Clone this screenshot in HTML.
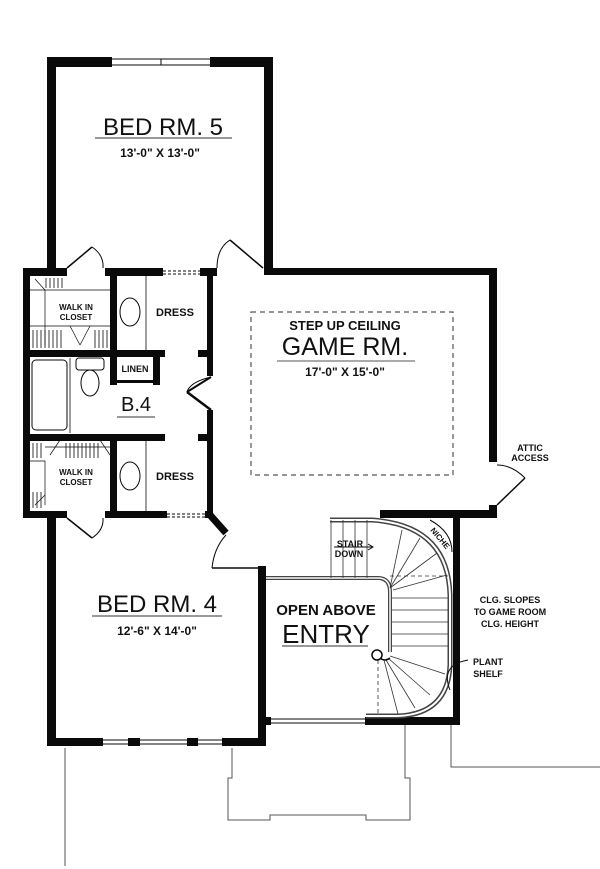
<!DOCTYPE html>
<html><head><meta charset="utf-8"><style>
html,body{margin:0;padding:0;background:#fff}
svg{display:block}
text{font-family:"Liberation Sans",sans-serif;fill:#111}
</style></head><body>
<svg width="600" height="869" viewBox="0 0 600 869" xmlns="http://www.w3.org/2000/svg">
<g fill="#0a0a0a" stroke="none">
<rect x="47" y="57" width="65" height="10"/>
<rect x="210" y="57" width="63" height="10"/>
<rect x="47" y="57" width="9" height="218"/>
<rect x="264" y="57" width="9" height="218"/>
<rect x="264" y="268" width="233" height="7"/>
<rect x="489" y="268" width="8" height="194"/>
<rect x="489" y="505" width="8" height="9"/>
<rect x="380" y="510" width="117" height="8"/>
<rect x="453" y="510" width="7" height="215"/>
<rect x="365" y="717" width="95" height="8"/>
<rect x="23" y="268" width="44" height="8"/>
<rect x="105" y="268" width="58" height="8"/>
<rect x="200" y="268" width="17" height="8"/>
<rect x="23" y="268" width="7" height="250"/>
<rect x="110" y="268" width="7" height="90"/>
<rect x="207" y="268" width="6" height="108"/>
<rect x="207" y="410" width="6" height="108"/>
<rect x="23" y="350" width="142" height="7"/>
<rect x="110" y="350" width="7" height="35"/>
<rect x="153" y="350" width="7" height="35"/>
<rect x="110" y="380" width="50" height="3"/>
<rect x="23" y="434" width="142" height="7"/>
<rect x="198" y="350" width="15" height="7"/>
<rect x="198" y="434" width="15" height="7"/>
<rect x="110" y="434" width="7" height="84"/>
<rect x="23" y="511" width="44" height="7"/>
<rect x="105" y="511" width="62" height="7"/>
<rect x="205" y="511" width="8" height="7"/>
<rect x="47" y="511" width="9" height="234"/>
<rect x="47" y="738" width="56" height="8"/>
<rect x="128" y="738" width="12" height="8"/>
<rect x="187" y="738" width="11" height="8"/>
<rect x="222" y="738" width="44" height="8"/>
<rect x="258" y="566" width="8" height="180"/>
<rect x="262" y="717" width="9" height="8"/>
</g>
<g stroke="#0a0a0a" fill="none">
<line x1="210" y1="515" x2="226" y2="533" stroke-width="7"/>
<line x1="211" y1="377" x2="187" y2="392" stroke-width="2"/>
<line x1="187" y1="392" x2="211" y2="410" stroke-width="2.5"/>
<path d="M211 377 Q190 382 187 392" stroke-width="1"/>
<line x1="67" y1="268" x2="92" y2="247" stroke-width="1.5"/><path d="M92 247 Q104 255 103 268" stroke-width="1"/>
<line x1="263" y1="268" x2="230" y2="240" stroke-width="1.5"/><path d="M230 240 Q217 248 217 268" stroke-width="1"/>
<line x1="67" y1="518" x2="92" y2="538" stroke-width="1.5"/><path d="M92 538 Q104 530 103 518" stroke-width="1"/>
<line x1="212" y1="568" x2="258" y2="568" stroke-width="1.5"/><path d="M212 568 Q214 548 226 535" stroke-width="1"/>
<line x1="497" y1="505" x2="525" y2="478" stroke-width="1.5"/><path d="M525 478 Q512 465 497 465" stroke-width="1"/>
<path d="M163 271 H200 M163 274 H200 M167 514 H205 M167 517 H205" stroke-width="1" stroke-dasharray="3,2"/>
<path d="M112 59 H210 M112 65 H210 M161 59 V65" stroke-width="1"/>
<path d="M103 740 H222 M103 744 H222 M271 719 H365 M271 723 H365" stroke-width="1"/>
<ellipse cx="130" cy="312" rx="10" ry="14" stroke-width="1"/>
<ellipse cx="130" cy="476" rx="10" ry="14" stroke-width="1"/>
<line x1="146" y1="276" x2="146" y2="350" stroke-width="0.8"/>
<line x1="146" y1="441" x2="146" y2="511" stroke-width="0.8"/>
<rect x="32" y="360" width="35" height="70" rx="4" stroke-width="1"/>
<line x1="70" y1="358" x2="70" y2="433" stroke-width="0.8"/>
<rect x="76" y="358" width="28" height="12" rx="3" stroke-width="1"/>
<ellipse cx="90" cy="383" rx="9" ry="13" stroke-width="1"/>
<path d="M30 290 H45 V345 M30 326 H110 M45 290 L110 290 M30 461 H45 V505 M45 447 H110" stroke-width="0.7"/>
<path d="M35 279 L45 290 M35 505 L45 495 M60 440 L50 455 M100 440 L110 455 M70 326 L80 345 M90 326 L80 345" stroke-width="0.7"/>
<g stroke-width="0.8">
<path d="M46 278 V288 M50 278 V288 M54 278 V288 M58 278 V288 M62 278 V288 M33 330 V348 M37 330 V348 M41 330 V348 M45 330 V348 M49 330 V348 M53 330 V348 M57 330 V348 M61 330 V348 M95 330 V348 M99 330 V348 M103 330 V348 M107 330 V348"/>
<path d="M33 443 V458 M37 443 V458 M41 443 V458 M66 443 V458 M70 443 V458 M74 443 V458 M78 443 V458 M82 443 V458 M86 443 V458 M90 443 V458 M94 443 V458 M98 443 V458 M33 492 V508 M37 492 V508 M41 492 V508"/>
</g>
<rect x="251" y="312" width="202" height="163" stroke="#555" stroke-width="1.2" stroke-dasharray="5,4"/>
<path d="M266 578 H378 Q390 578 390 592 V652" stroke="#444" stroke-width="4"/>
<path d="M266 578 H378 Q390 578 390 592 V652" stroke="#fff" stroke-width="1.5"/>
<path d="M330 520 H372 Q448 525 450 595 V665 Q448 714 398 716 H366" stroke="#444" stroke-width="5"/>
<path d="M330 520 H372 Q448 525 450 595 V665 Q448 714 398 716 H366" stroke="#fff" stroke-width="2"/>
<circle cx="377" cy="655" r="5" stroke-width="1.5"/>
<path d="M390 658 Q385 662 380 658" stroke-width="1.5"/>
<g stroke-width="0.8" stroke="#333">
<path d="M331 520 V578 M343 520 V578 M355 520 V578 M367 520 V578"/>
<path d="M392 598 H448 M392 610 H448 M392 622 H448 M392 634 H448 M392 646 H448"/>
<path d="M390 588 L402 530 M390 588 L420 538 M390 588 L437 553 M393 590 L447 575"/>
<path d="M390 656 L445 674 M388 658 L430 695 M386 660 L415 708 M384 660 L398 714"/>
<path d="M378 660 V716 M390 576 H448" stroke-dasharray="4,3"/>
</g>
<path d="M430 520 Q452 532 452 552" stroke-width="1"/>
<path d="M450 690 Q440 665 468 660" stroke-width="1"/>
<path d="M334 547 H372 M368 544 L373 547 L368 550" stroke-width="1"/>
<g stroke="#555" stroke-width="1">
<path d="M65 748 V866"/>
<path d="M232 748 V778 H228 V820 H270 V815 H366 V820 H410 V778 H405 V725"/>
<path d="M451 725 V767 H600"/>
<path d="M277 361 H415" />
</g>
</g>
<text x="163" y="135" font-size="24" text-anchor="middle">BED RM. 5</text>
<line x1="95" y1="138" x2="232" y2="138" stroke="#333" stroke-width="1"/>
<text x="160" y="157" font-size="12" text-anchor="middle" font-weight="bold">13'-0" X 13'-0"</text>
<text x="157" y="612" font-size="24" text-anchor="middle">BED RM. 4</text>
<line x1="92" y1="616" x2="222" y2="616" stroke="#333" stroke-width="1"/>
<text x="157" y="635" font-size="12" text-anchor="middle" font-weight="bold">12'-6" X 14'-0"</text>
<text x="345" y="330" font-size="13" text-anchor="middle" font-weight="bold">STEP UP CEILING</text>
<text x="345" y="355" font-size="25" text-anchor="middle">GAME RM.</text>
<text x="345" y="376" font-size="12" text-anchor="middle" font-weight="bold">17'-0" X 15'-0"</text>
<text x="326" y="615" font-size="15" text-anchor="middle" font-weight="bold">OPEN ABOVE</text>
<text x="326" y="643" font-size="26" text-anchor="middle">ENTRY</text>
<line x1="282" y1="646" x2="368" y2="646" stroke="#333" stroke-width="1"/>
<text x="136" y="411" font-size="20" text-anchor="middle">B.4</text>
<line x1="117" y1="417" x2="155" y2="417" stroke="#333" stroke-width="1"/>
<text x="135" y="372" font-size="9" text-anchor="middle" font-weight="bold">LINEN</text>
<text x="175" y="316" font-size="11" text-anchor="middle" font-weight="bold">DRESS</text>
<text x="175" y="480" font-size="11" text-anchor="middle" font-weight="bold">DRESS</text>
<g font-size="8" text-anchor="middle" font-weight="bold"><text x="76" y="310">WALK IN</text><text x="76" y="320">CLOSET</text><text x="76" y="475">WALK IN</text><text x="76" y="485">CLOSET</text></g>
<g font-size="9" text-anchor="middle" font-weight="bold">
<text x="350" y="547">STAIR</text><text x="349" y="557">DOWN</text>
<text x="530" y="451">ATTIC</text><text x="530" y="461">ACCESS</text>
<text x="510" y="603">CLG. SLOPES</text><text x="510" y="615">TO GAME ROOM</text><text x="510" y="627">CLG. HEIGHT</text>
<text x="488" y="665">PLANT</text><text x="488" y="677">SHELF</text>
<text x="438" y="540" font-size="8" transform="rotate(50 438 540)">NICHE</text>
</g>
</svg>
</body></html>
